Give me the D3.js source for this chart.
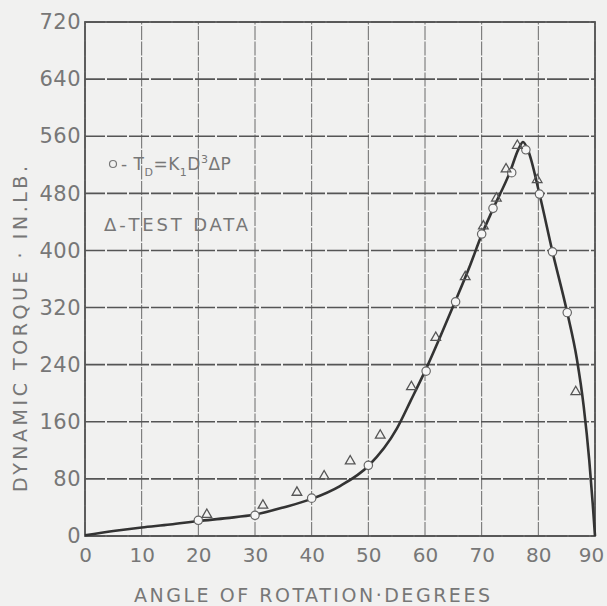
<!DOCTYPE html>
<html><head><meta charset="utf-8">
<script src="https://cdn.jsdelivr.net/npm/d3@7"></script>
<style>
html,body{margin:0;padding:0;background:#f1f1f0;}
text{font-family:"DejaVu Sans","Liberation Sans",sans-serif;fill:#777;}
</style></head><body>
<svg id="c" width="607" height="606"></svg>
<script>
// Data
const xTicks = [0,10,20,30,40,50,60,70,80,90];
const yTicks = [0,80,160,240,320,400,480,560,640,720];
// Smooth curve through the data (angle, torque)
const curveAngle  = [0,5,10,15,20,25,30,35,40,45,50,55,57.5,60,63,65.3,68,70,72,75,76.5,77.3,78.2,80.2,82.5,85.1,86.8,88,89,89.6,90];
const curveTorque = [1,7,12,16,21,25,30,40,52,70,98,150,190,231,285,328,380,422,458,510,542,552,540,479,398,313,248,182,105,45,0];
// Circles: T_D = K1 D^3 ΔP
const calcAngle  = [20,30,40,50,60.2,65.4,70,72,75.3,77.8,80.2,82.5,85.1];
const calcTorque = [22,29,53,99,231,328,423,459,509,541,479,398,313];
// Triangles: test data
const testAngle  = [21.5,31.4,37.4,42.2,46.8,52.1,57.6,61.9,67.1,70.3,72.6,74.3,76.3,79.8,86.6];
const testTorque = [30,43,61,84,105,141,209,278,363,434,473,514,547,499,202];

const svg = d3.select("#c");
const x = d3.scaleLinear().domain([0,90]).range([85,595]);
const y = d3.scaleLinear().domain([0,720]).range([536,22]);

// grid
const g = svg.append("g");
g.selectAll(".vg").data(xTicks).join("line")
  .attr("x1",d=>x(d)).attr("x2",d=>x(d)).attr("y1",y(0)).attr("y2",y(720))
  .attr("stroke","#6a6a6a").attr("stroke-width",1).attr("stroke-dasharray","14,1.5");
g.selectAll(".hg").data(yTicks).join("line")
  .attr("y1",d=>y(d)).attr("y2",d=>y(d)).attr("x1",x(0)).attr("x2",x(90))
  .attr("stroke","#555").attr("stroke-width",1.6).attr("stroke-dasharray","20,2");
// frame
svg.append("rect").attr("x",x(0)).attr("y",y(720)).attr("width",x(90)-x(0)).attr("height",y(0)-y(720))
  .attr("fill","none").attr("stroke","#555").attr("stroke-width",1.8);

// axes labels via d3 axes
const xAxis = d3.axisBottom(x).tickValues(xTicks).tickSize(0).tickPadding(9).tickFormat(d3.format("d"));
const xa = svg.append("g").attr("transform",`translate(0,${y(0)})`).call(xAxis);
xa.select(".domain").remove();
xa.selectAll("text").attr("font-size",20).attr("fill","#7a7a7a").attr("dy","0.85em").attr("font-family","DejaVu Sans")
  .attr("dx",d=>d===90?-4:0);
const yAxis = d3.axisLeft(y).tickValues(yTicks).tickSize(0).tickPadding(4).tickFormat(d3.format("d"));
const ya = svg.append("g").attr("transform",`translate(${x(0)},0)`).call(yAxis);
ya.select(".domain").remove();
ya.selectAll("text").attr("font-size",21).attr("fill","#7a7a7a").attr("letter-spacing",0.5).attr("font-family","DejaVu Sans");

// curve
const line = d3.line().x(d=>x(d[0])).y(d=>y(d[1])).curve(d3.curveMonotoneX);
svg.append("path").datum(curveAngle.map((a,i)=>[a,curveTorque[i]]))
  .attr("d",line).attr("fill","none").attr("stroke","#333").attr("stroke-width",2.6);

// circles
svg.selectAll(".calc").data(calcAngle.map((a,i)=>[a,calcTorque[i]])).join("circle")
  .attr("cx",d=>x(d[0])).attr("cy",d=>y(d[1])).attr("r",4.2)
  .attr("fill","#f6f6f6").attr("stroke","#666").attr("stroke-width",1.2);
// triangles
const tri = d3.symbol().type(d3.symbolTriangle).size(40);
svg.selectAll(".test").data(testAngle.map((a,i)=>[a,testTorque[i]])).join("path")
  .attr("d",tri).attr("transform",d=>`translate(${x(d[0])},${y(d[1])})`)
  .attr("fill","none").attr("stroke","#555").attr("stroke-width",1.3);

// legend
const lg = svg.append("g");
lg.append("circle").attr("cx",113).attr("cy",164).attr("r",3.5).attr("fill","none").attr("stroke","#777").attr("stroke-width",1.2);
const t1 = lg.append("text").attr("x",121).attr("y",170).attr("font-size",17).attr("letter-spacing",0.5);
t1.append("tspan").text("- T");
t1.append("tspan").attr("font-size",11).attr("dy",6).text("D");
t1.append("tspan").attr("dy",-6).text("=K");
t1.append("tspan").attr("font-size",11).attr("dy",6).text("1");
t1.append("tspan").attr("dy",-6).text("D");
t1.append("tspan").attr("font-size",11).attr("dy",-7).text("3");
t1.append("tspan").attr("dy",7).text("ΔP");
lg.append("text").attr("x",104).attr("y",231).attr("font-size",18).attr("textLength",144).attr("lengthAdjust","spacing").text("Δ-TEST DATA");

// titles
svg.append("text").attr("x",312).attr("y",602).attr("text-anchor","middle").attr("font-size",19)
  .attr("textLength",356).attr("lengthAdjust","spacing").text("ANGLE OF ROTATION·DEGREES");
svg.append("text").attr("transform","translate(27,329) rotate(-90)").attr("text-anchor","middle").attr("font-size",19)
  .attr("textLength",326).attr("lengthAdjust","spacing").text("DYNAMIC TORQUE · IN.LB.");
</script></body></html>
